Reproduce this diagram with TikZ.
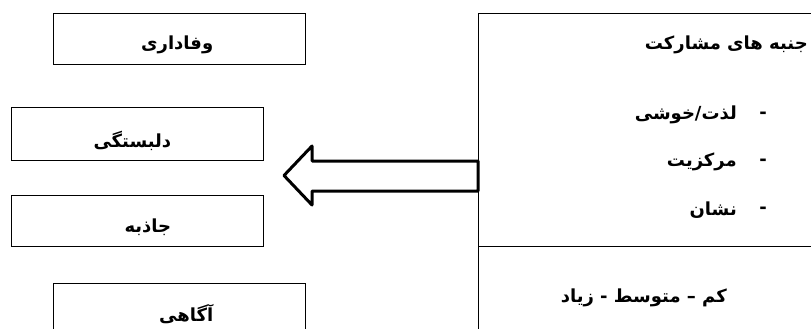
\documentclass[tikz,border=0pt]{standalone}
\usepackage{fontspec}
\TeXXeTstate=1
\newfontfamily\arabicfont[Script=Arabic]{DejaVu Sans}
\begin{document}
\begin{tikzpicture}[x=1pt,y=-1pt,
  box/.style={draw, line width=0.8pt, minimum width=252pt, inner sep=0pt},
  lbl/.style={font=\arabicfont\bfseries\fontsize{18}{20}\selectfont, inner sep=0pt, anchor=east},
  bullet/.style={font=\arabicfont\bfseries\fontsize{18}{20}\selectfont, inner sep=0pt}]
\useasboundingbox (0,0) rectangle (811,329);
\fill[white] (0,0) rectangle (811,329);
\clip (0,0) rectangle (811,329);
% left boxes
\node[box, minimum height=51pt] (b1) at (179,38.5) {};
\node[box, minimum height=53pt] (b2) at (137,133.5) {};
\node[box, minimum height=51pt] (b3) at (137,220.5) {};
\node[box, minimum height=51pt] (b4) at (179,308.5) {};
\node[lbl] (t1) at ([xshift=-92pt,yshift=-6pt]b1.east) {\beginR وفاداری\endR};
\node[lbl] (t2) at ([xshift=-92pt,yshift=-7pt]b2.east) {\beginR دلبستگی\endR};
\node[lbl] (t3) at ([xshift=-92pt,yshift=-7pt]b3.east) {\beginR جاذبه\endR};
\node[lbl] (t4) at ([xshift=-92pt,yshift=-6pt]b4.east) {\beginR آگاهی\endR};
% right box
\node[draw, line width=0.8pt, minimum width=360pt, minimum height=400pt, inner sep=0pt] (rb) at (658,213) {};
\coordinate (dl) at (478,246);
\coordinate (dr) at (830,246);
\draw[line width=0.8pt] (dl) -- (dr);
\node[lbl] (h) at (808,45) {\beginR جنبه های مشارکت\endR};
\node[bullet] (d1) at (763,115) {-};
\node[bullet] (d2) at (763,162) {-};
\node[bullet] (d3) at (763,210) {-};
\node[lbl] (i1) at (737,115) {\beginR لذت/خوشی\endR};
\node[lbl] (i2) at (737,162) {\beginR مرکزیت\endR};
\node[lbl] (i3) at (737,210) {\beginR نشان\endR};
\node[lbl] (k) at (727,298) {\beginR کم – متوسط - زیاد\endR};
% arrow
\draw[line width=3pt, line join=round, fill=white]
  (478,161) -- (312,161) -- (312,146) -- (284,175.5) -- (312,205) -- (312,191) -- (478,191) -- cycle;
\end{tikzpicture}
\end{document}
